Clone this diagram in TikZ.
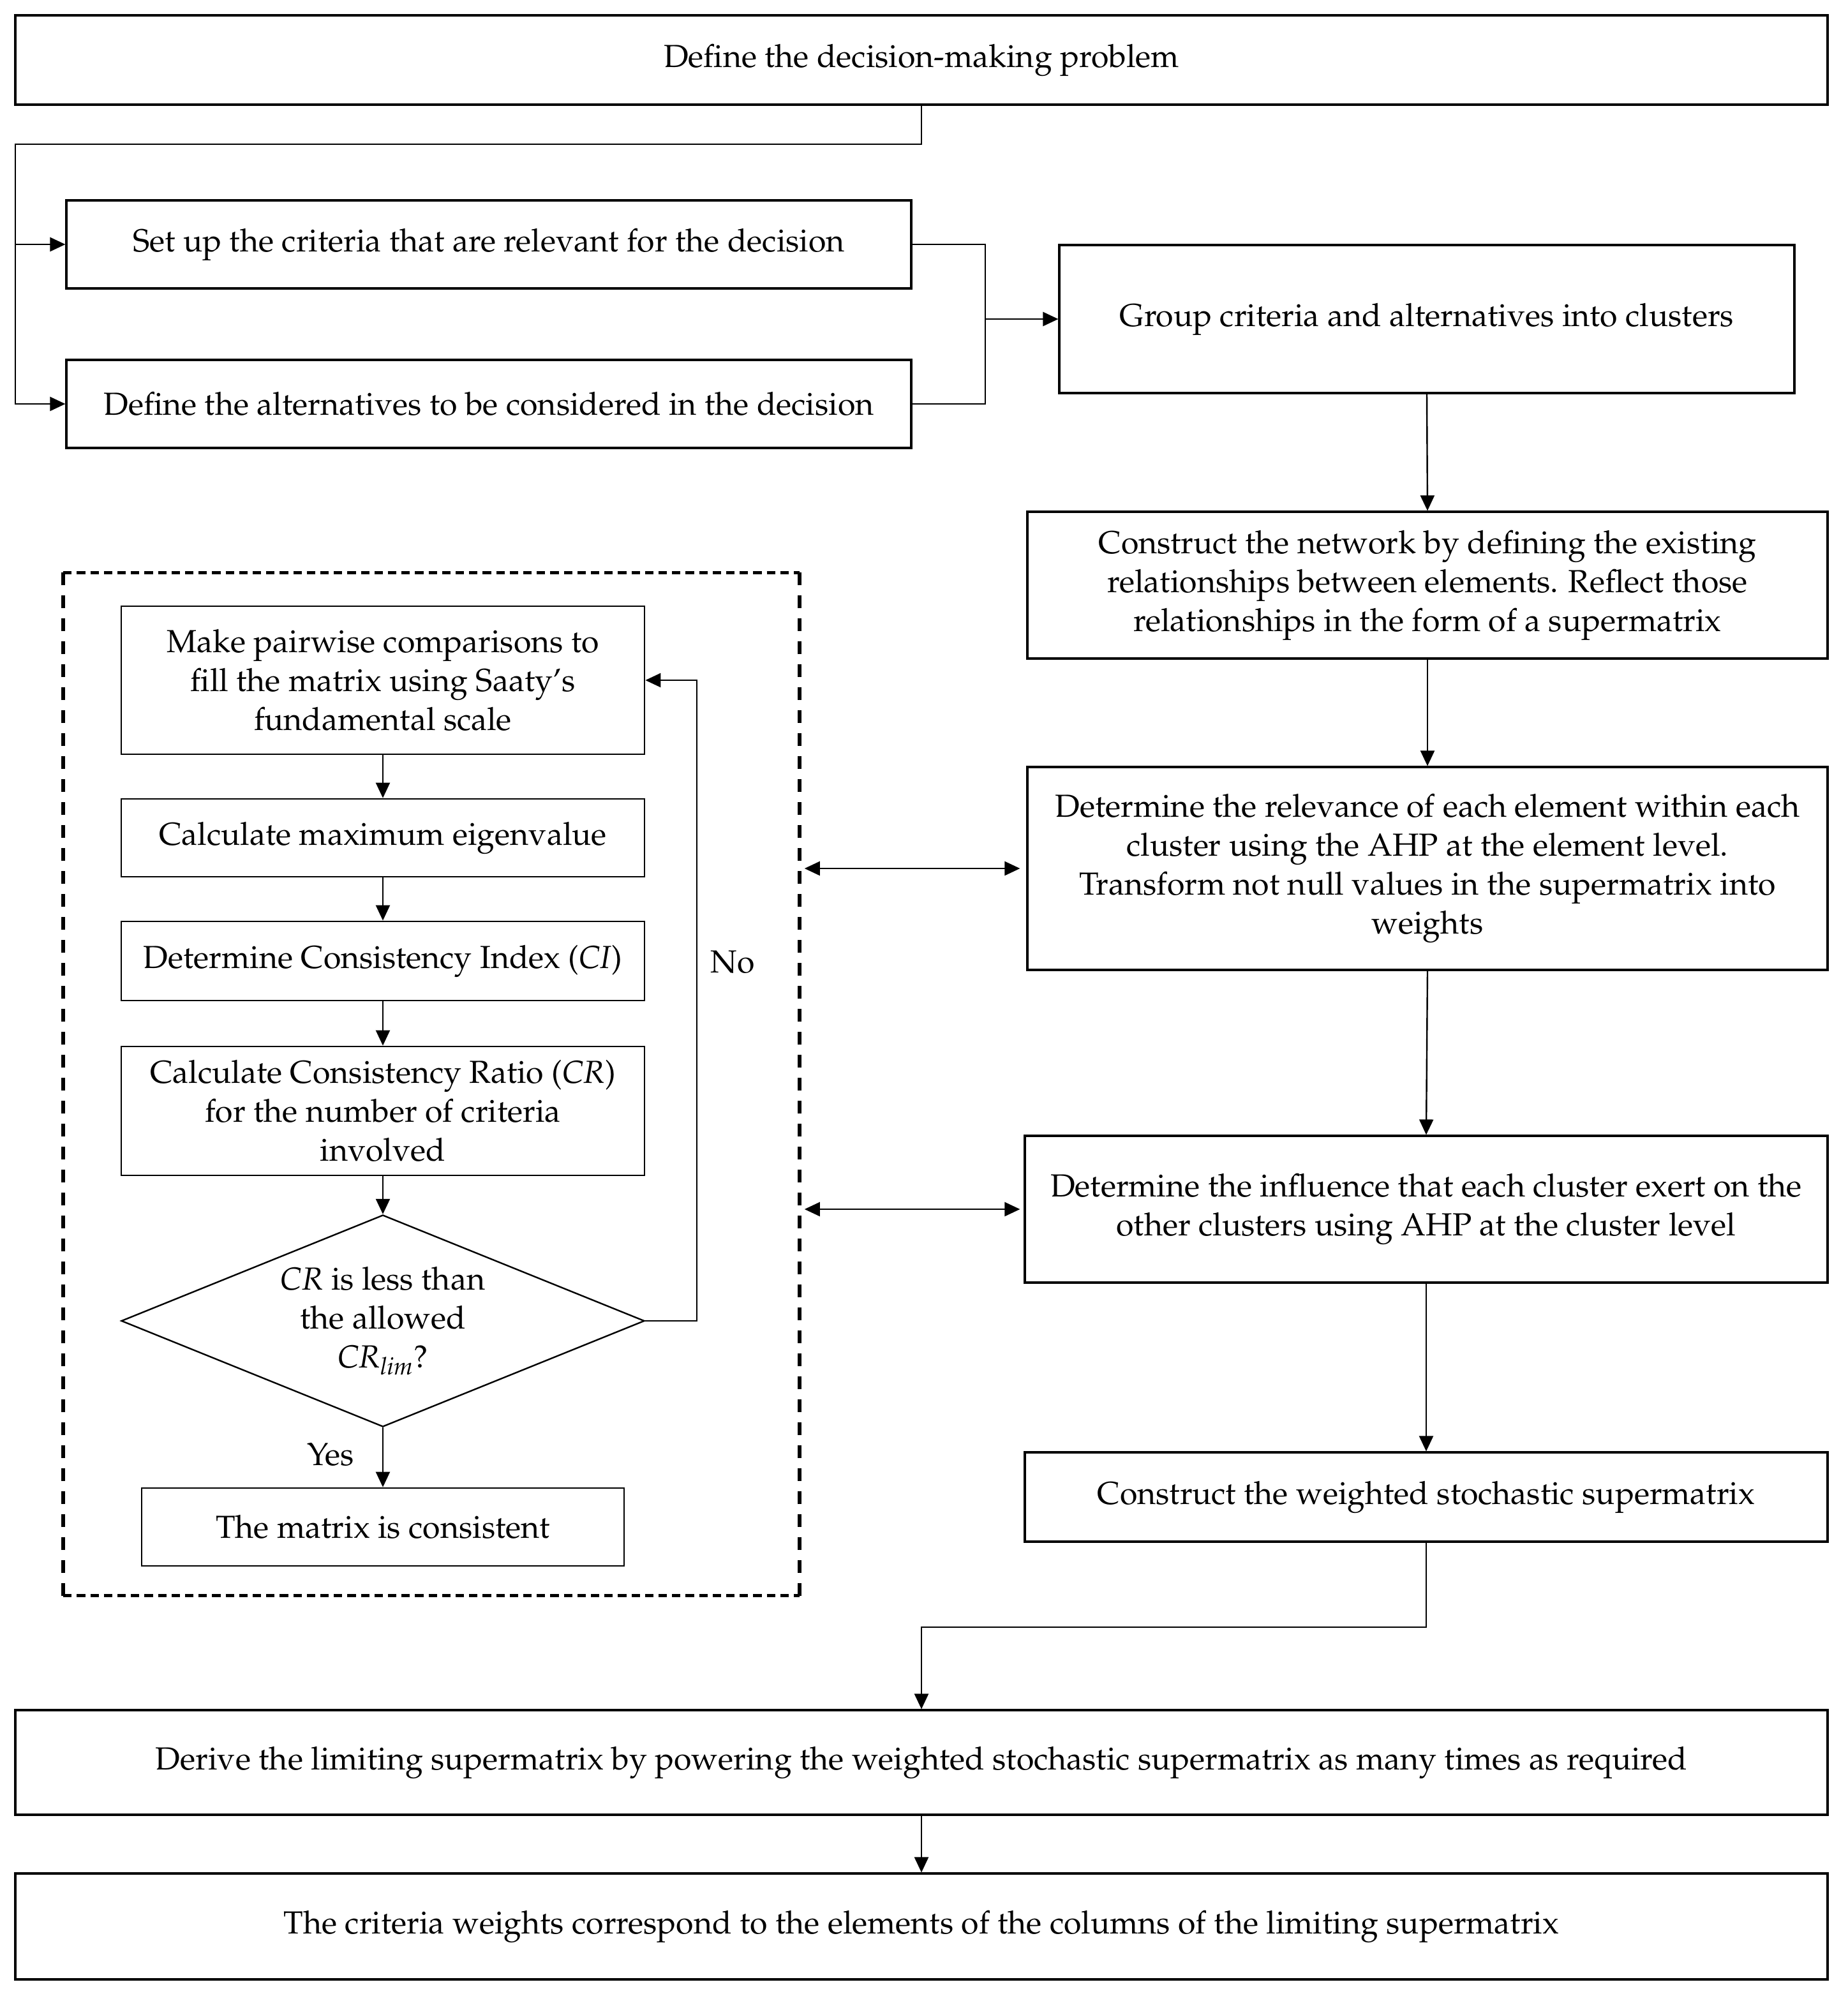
\documentclass[tikz,border=0pt]{standalone}
\usepackage[T1]{fontenc}
\usepackage{mathpazo}
\usetikzlibrary{arrows.meta,shapes.geometric}
\newcommand\myfs{\fontsize{12.5}{15.25}\selectfont}
\tikzset{
  box/.style={draw, line width=0.8pt, align=center, inner sep=1pt, font=\myfs},
  ibox/.style={draw, line width=0.7pt, align=center, inner sep=1pt, font=\myfs},
  dbox/.style={diamond, draw, line width=0.6pt, align=center, inner sep=0pt, shape aspect=2.47, font=\myfs},
  arr/.style={line width=0.6pt, -{Triangle[length=6pt,width=5.5pt]}},
  arrb/.style={line width=0.6pt, {Triangle[length=6pt,width=5.5pt]}-{Triangle[length=6pt,width=5.5pt]}},
  ln/.style={line width=0.6pt},
  dashh/.style={line width=1.3pt, dash pattern=on 3.3pt off 2pt},
  dashv/.style={line width=1.5pt, dash pattern=on 5pt off 4pt},
  lbl/.style={font=\myfs, inner sep=0pt}
}
\begin{document}
\begin{tikzpicture}[x=0.5pt,y=-0.5pt]
\useasboundingbox (0,0) rectangle (1447.5,1569.5);
% right / main column
\node[box, minimum width=710pt, minimum height=35pt] (top) at (722,47) {Define the decision-making problem};
\node[box, minimum width=331pt, minimum height=34.5pt] (crit) at (383,191.5) {Set up the criteria that are relevant for the decision};
\node[box, minimum width=331pt, minimum height=34.5pt] (alt) at (383,316.5) {Define the alternatives to be considered in the decision};
\node[box, minimum width=288pt, minimum height=58pt] (group) at (1118,250) {Group criteria and alternatives into clusters};
\node[box, minimum width=313.5pt, minimum height=57.5pt] (network) at (1118.5,458.5) {Construct the network by defining the existing\\relationships between elements. Reflect those\\relationships in the form of a supermatrix};
\node[box, minimum width=313.5pt, minimum height=79.5pt] (relev) at (1118.5,680.5) {Determine the relevance of each element within each\\cluster using the AHP at the element level.\\Transform not null values in the supermatrix into\\weights};
\node[box, minimum width=314.5pt, minimum height=57.5pt] (influ) at (1117.5,947.5) {Determine the influence that each cluster exert on the\\other clusters using AHP at the cluster level};
\node[box, minimum width=314.5pt, minimum height=35pt] (weighted) at (1117.5,1173) {Construct the weighted stochastic supermatrix};
\node[box, minimum width=710pt, minimum height=41pt] (limit) at (722,1381) {Derive the limiting supermatrix by powering the weighted stochastic supermatrix as many times as required};
\node[box, minimum width=710pt, minimum height=41.5pt] (final) at (722,1509.5) {The criteria weights correspond to the elements of the columns of the limiting supermatrix};
% dashed group
\node[minimum width=288pt, minimum height=400.5pt, inner sep=0pt] (dash) at (338,849.5) {};
\draw[dashh] (dash.north west) -- (dash.north east);
\draw[dashh] (dash.south west) -- (dash.south east);
\draw[dashv] (dash.north west) -- (dash.south west);
\draw[dashv] (dash.north east) -- (dash.south east);
\node[ibox, minimum width=205pt, minimum height=58pt] (pair) at (300,533) {Make pairwise comparisons to\\fill the matrix using Saaty's\\fundamental scale};
\node[ibox, minimum width=205pt, minimum height=30.5pt] (eig) at (300,656.5) {Calculate maximum eigenvalue};
\node[ibox, minimum width=205pt, minimum height=31pt] (ci) at (300,753) {Determine Consistency Index (\textit{CI})};
\node[ibox, minimum width=205pt, minimum height=50.5pt] (cr) at (300,870.5) {Calculate Consistency Ratio (\textit{CR})\\for the number of criteria\\involved};
\node[dbox, minimum width=205pt, minimum height=83pt] (dia) at (300,1035) {\textit{CR} is less than\\the allowed\\\textit{CR}\textsubscript{\textit{lim}}?};
\node[ibox, minimum width=189pt, minimum height=30.5pt] (cons) at (300,1196.5) {The matrix is consistent};
\node[lbl] (yes) at (259,1140) {Yes};
\node[lbl] (no) at (574,754) {No};
% connectors
\coordinate (j1) at (12,113);
\draw[arr] (top.south) |- (j1) |- (crit.west);
\draw[arr] (j1) |- (alt.west);
\coordinate (j2) at (772,250);
\draw[ln] (crit.east) -| (j2);
\draw[ln] (alt.east) -| (j2);
\draw[arr] (j2) -- (group.west);
\draw[arr] (group.south) -- (network.north);
\draw[arr] (network.south) -- (relev.north);
\draw[arr] (relev.south) -- (influ.north);
\draw[arr] (influ.south) -- (weighted.north);
\coordinate (j3) at (722,1275);
\draw[arr] (weighted.south) |- (j3) -- (limit.north);
\draw[arr] (limit.south) -- (final.north);
\draw[arr] (pair.south) -- (eig.north);
\draw[arr] (eig.south) -- (ci.north);
\draw[arr] (ci.south) -- (cr.north);
\draw[arr] (cr.south) -- (dia.north);
\draw[arr] (dia.south) -- (cons.north);
\coordinate (j4) at (546,1035);
\draw[arr] (dia.east) -- (j4) |- (pair.east);
\draw[arrb, shorten <=2pt, shorten >=2.5pt] (dash.east |- relev.west) -- (relev.west);
\draw[arrb, shorten <=2pt, shorten >=1.5pt] (dash.east |- influ.west) -- (influ.west);
\end{tikzpicture}
\end{document}
